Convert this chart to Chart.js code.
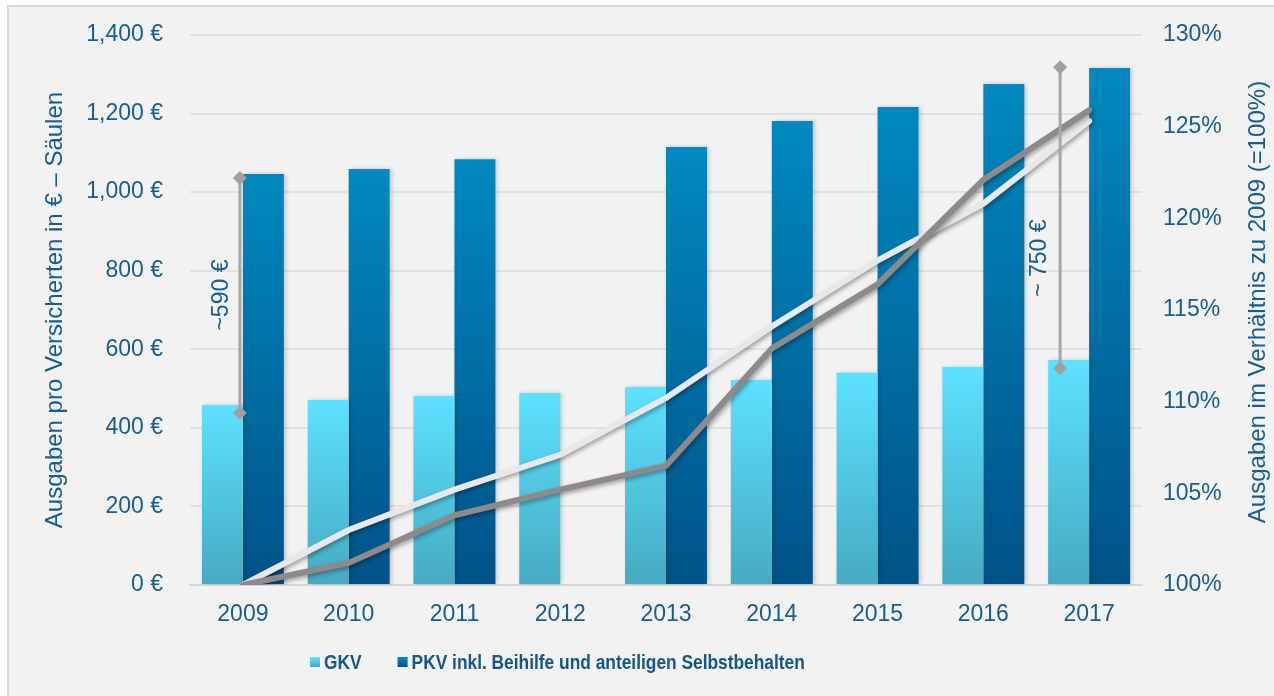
<!DOCTYPE html>
<html>
<head>
<meta charset="utf-8">
<script src="https://cdn.jsdelivr.net/npm/chart.js@4.4.1/dist/chart.umd.min.js"></script>
<style>
  html, body { margin: 0; padding: 0; background: #ffffff; }
  #frame {
    position: absolute; left: 7px; top: 5px; width: 1290px; height: 710px;
    background: #f2f2f2; border: 2px solid #d3dae3; box-sizing: border-box;
  }
  #chart { position: absolute; left: 0; top: 0; }
</style>
</head>
<body>
<div id="frame"></div>
<canvas id="chart" width="1274" height="696"></canvas>
<script>
// Years on the x axis
var years = ['2009', '2010', '2011', '2012', '2013', '2014', '2015', '2016', '2017'];
// Spending per insured person in euro (columns)
var gkvValues = [458, 471, 481, 489, 504, 522, 540, 555, 573];
var pkvValues = [1046, 1059, 1084, null, 1115, 1181, 1217, 1275, 1316];
// Spending relative to 2009 in percent (lines)
var gkvIndex = [100, 103.0, 105.2, 107.1, 110.2, 114.1, 117.7, 120.8, 125.3];
var pkvIndex = [100, 101.2, 103.8, 105.2, 106.5, 112.9, 116.4, 122.1, 125.9];
// Gap brackets
var gapYears = ['2009', '2017'];
var gapLow = [438, 552];
var gapHigh = [1036, 1318];
var gapLabelAt = [738, 832];
var gapLabels = ['~590 €', '~ 750 €'];

var textColor = '#175d91';
var font = 'Liberation Sans, Arial, sans-serif';

// Gradient running from the top of each bar down to the axis
function barGradient(top, bottom) {
    return function(context) {
        if (context.type !== 'data') return top;
        var chart = context.chart;
        var area = chart.chartArea;
        var v = context.raw;
        if (!area || v == null) return top;
        var y = chart.scales.y;
        var g = chart.ctx.createLinearGradient(0, y.getPixelForValue(v), 0, y.getPixelForValue(0));
        g.addColorStop(0, top);
        g.addColorStop(1, bottom);
        return g;
    };
}

// No extra label overhang, so the layout padding sets the plot area
function noOverhang(scale) {
    scale.paddingTop = 0;
    scale.paddingBottom = 0;
    scale.paddingLeft = 0;
    scale.paddingRight = 0;
}

// Shadows under bars and lines
var shadowPlugin = {
    id: 'shadows',
    beforeDatasetDraw: function(chart, args) {
        var ctx = chart.ctx;
        ctx.save();
        if (args.meta.type === 'line') {
            ctx.shadowColor = 'rgba(0,0,0,0.35)';
            ctx.shadowBlur = 4;
            ctx.shadowOffsetX = 2;
            ctx.shadowOffsetY = 2;
        } else {
            ctx.shadowColor = 'rgba(0,0,0,0.18)';
            ctx.shadowBlur = 4;
            ctx.shadowOffsetX = 2;
            ctx.shadowOffsetY = 0;
        }
    },
    afterDatasetDraw: function(chart) {
        chart.ctx.restore();
    }
};

// Brackets showing the gap between GKV and PKV, right axis title, legend
var extrasPlugin = {
    id: 'extras',
    afterDatasetsDraw: function(chart) {
        var ctx = chart.ctx;
        var x = chart.scales.x;
        var y = chart.scales.y;
        var offsets = [-3, -29];
        var labelShift = [-18, -20];
        ctx.save();
        for (var i = 0; i < gapYears.length; i++) {
            var px = x.getPixelForValue(years.indexOf(gapYears[i])) + offsets[i];
            var y1 = y.getPixelForValue(gapHigh[i]);
            var y2 = y.getPixelForValue(gapLow[i]);
            ctx.strokeStyle = '#a6a6a6';
            ctx.lineWidth = 3;
            ctx.beginPath();
            ctx.moveTo(px, y1);
            ctx.lineTo(px, y2);
            ctx.stroke();
            ctx.fillStyle = '#a0a0a0';
            [y1, y2].forEach(function(py) {
                ctx.beginPath();
                ctx.moveTo(px, py - 7);
                ctx.lineTo(px + 7, py);
                ctx.lineTo(px, py + 7);
                ctx.lineTo(px - 7, py);
                ctx.closePath();
                ctx.fill();
            });
            ctx.save();
            ctx.translate(px + labelShift[i], y.getPixelForValue(gapLabelAt[i]));
            ctx.rotate(-Math.PI / 2);
            ctx.fillStyle = textColor;
            ctx.font = '23px ' + font;
            ctx.textAlign = 'center';
            ctx.textBaseline = 'middle';
            ctx.fillText(gapLabels[i], 0, 0);
            ctx.restore();
        }
        ctx.restore();

        // right axis title, reading bottom to top
        ctx.save();
        ctx.translate(1258, 302);
        ctx.rotate(-Math.PI / 2);
        ctx.fillStyle = textColor;
        ctx.font = '24px ' + font;
        ctx.textAlign = 'center';
        ctx.textBaseline = 'middle';
        ctx.fillText('Ausgaben im Verhältnis zu 2009 (=100%)', 0, 0);
        ctx.restore();

        // legend for the two column series, condensed bold text
        var lx = 310;
        var ly = 662;
        var squeeze = 0.826;
        var swatches = [['#5ce2ff', '#46aac2'], ['#0089bf', '#005388']];
        ctx.save();
        ctx.font = 'bold 21px ' + font;
        ctx.textBaseline = 'middle';
        for (var j = 0; j < 2; j++) {
            var g = ctx.createLinearGradient(0, ly - 5, 0, ly + 5);
            g.addColorStop(0, swatches[j][0]);
            g.addColorStop(1, swatches[j][1]);
            ctx.fillStyle = g;
            ctx.fillRect(lx, ly - 5, 10, 10);
            var label = chart.data.datasets[j].label;
            ctx.save();
            ctx.translate(lx + 14, ly + 1);
            ctx.scale(squeeze, 1);
            ctx.fillStyle = '#14578a';
            ctx.fillText(label, 0, 0);
            ctx.restore();
            lx += 14 + ctx.measureText(label).width * squeeze + 36;
        }
        ctx.restore();
    }
};

var ctx = document.getElementById('chart').getContext('2d');
var chart = new Chart(ctx, {
    type: 'bar',
    data: {
        labels: years,
        datasets: [{
            label: 'GKV',
            data: gkvValues,
            backgroundColor: barGradient('#5ce2ff', '#46aac2'),
            yAxisID: 'y',
            order: 2
        }, {
            label: 'PKV inkl. Beihilfe und anteiligen Selbstbehalten',
            data: pkvValues,
            backgroundColor: barGradient('#0089bf', '#005388'),
            yAxisID: 'y',
            order: 3
        }, {
            type: 'line',
            label: 'GKV Index',
            data: gkvIndex,
            borderColor: '#e8e8e8',
            borderWidth: 6,
            borderCapStyle: 'round',
            pointRadius: 0,
            tension: 0,
            yAxisID: 'y2',
            order: 1
        }, {
            type: 'line',
            label: 'PKV Index',
            data: pkvIndex,
            borderColor: '#8e8a8a',
            borderWidth: 6,
            borderCapStyle: 'round',
            pointRadius: 0,
            tension: 0,
            yAxisID: 'y2',
            order: 0
        }]
    },
    options: {
        responsive: false,
        animation: false,
        categoryPercentage: 0.775,
        barPercentage: 1.0,
        layout: {
            padding: { top: 35, bottom: 61, left: 0, right: 0 }
        },
        plugins: {
            tooltip: { enabled: false },
            legend: { display: false }
        },
        scales: {
            x: {
                grid: { display: false },
                border: { display: true, color: '#d6d6d6', width: 2 },
                ticks: { color: textColor, font: { family: font, size: 23 }, padding: 8 },
                afterFit: function(scale) { noOverhang(scale); scale.height = 50; }
            },
            y: {
                position: 'left',
                min: 0,
                max: 1400,
                ticks: {
                    stepSize: 200,
                    color: textColor,
                    font: { family: font, size: 23 },
                    padding: 27,
                    callback: function(v) { return v.toLocaleString('en-US') + ' €'; }
                },
                grid: { color: '#e1e1e1', lineWidth: 2, drawTicks: false },
                border: { display: false },
                title: {
                    display: true,
                    text: 'Ausgaben pro Versicherten in € – Säulen',
                    color: textColor,
                    font: { family: font, size: 24 },
                    padding: { top: 41 }
                },
                afterFit: function(scale) { noOverhang(scale); scale.width = 190; }
            },
            y2: {
                position: 'right',
                min: 100,
                max: 130,
                ticks: {
                    stepSize: 5,
                    color: textColor,
                    font: { family: font, size: 23 },
                    padding: 21,
                    callback: function(v) { return v + '%'; }
                },
                grid: { display: false, drawTicks: false },
                border: { display: false },
                afterFit: function(scale) { noOverhang(scale); scale.width = 132; }
            }
        }
    },
    plugins: [shadowPlugin, extrasPlugin]
});
</script>
</body>
</html>
